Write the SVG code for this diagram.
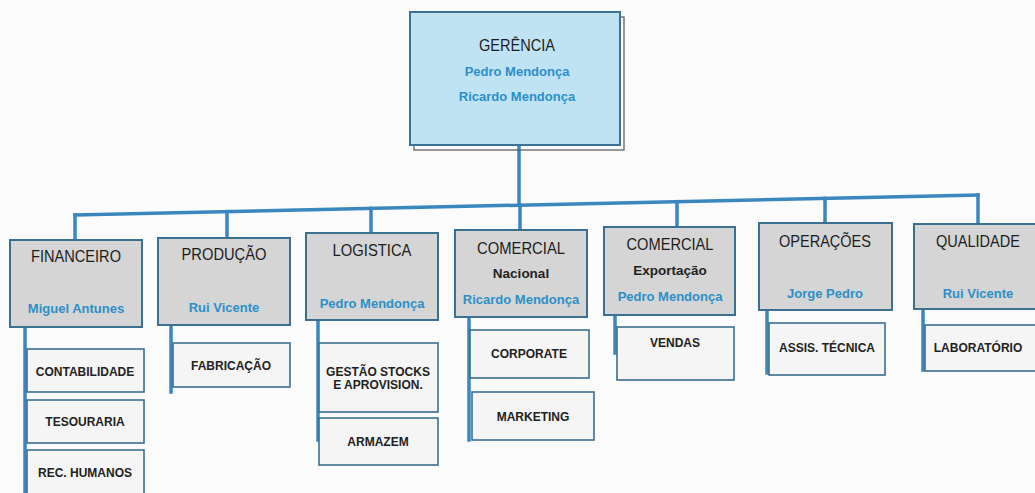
<svg xmlns="http://www.w3.org/2000/svg" width="1035" height="493" viewBox="0 0 1035 493">
<style>
text{font-family:"Liberation Sans",Arial,sans-serif;text-anchor:middle}
.t{font-size:16.5px;fill:#1c1c1c}
.n{font-size:13px;font-weight:bold;fill:#2b8fc8}
.s{font-size:13.5px;font-weight:bold;fill:#222}
.l{font-size:12px;font-weight:bold;fill:#222}
.top{fill:#bfe3f3;stroke:#3c7295;stroke-width:2}
.dep{fill:#d5d5d5;stroke:#3d6f90;stroke-width:2}
.sub{fill:#f5f5f5;stroke:#3d6f90;stroke-width:1.6}
.c{fill:none;stroke:#3a87bd;stroke-width:3.5;stroke-linecap:square}
</style>
<rect width="1035" height="493" fill="#fbfbfb"/>
<g id="connectors">
<line class="c" x1="519" y1="146" x2="519" y2="205"/>
<line class="c" x1="75" y1="215" x2="978" y2="195"/>
<line class="c" x1="75" y1="215" x2="75" y2="240"/>
<line class="c" x1="227" y1="211.6" x2="227" y2="238"/>
<line class="c" x1="371" y1="208.4" x2="371" y2="233"/>
<line class="c" x1="520" y1="205.1" x2="520" y2="230"/>
<line class="c" x1="677" y1="201.7" x2="677" y2="227"/>
<line class="c" x1="825" y1="198.4" x2="825" y2="223"/>
<line class="c" x1="978" y1="195" x2="978" y2="224"/>
<line class="c" x1="25" y1="327" x2="25" y2="495"/>
<line class="c" x1="171" y1="325" x2="171" y2="392"/>
<line class="c" x1="318" y1="320" x2="318" y2="440"/>
<line class="c" x1="469" y1="317" x2="469" y2="440"/>
<line class="c" x1="615" y1="315" x2="615" y2="353"/>
<line class="c" x1="767" y1="310" x2="767" y2="373"/>
<line class="c" x1="923" y1="309" x2="923" y2="370"/>
</g>
<g id="gerencia">
<rect x="414" y="17" width="210" height="133" fill="none" stroke="#555" stroke-width="1.2"/>
<rect class="top" x="410" y="12" width="210" height="133"/>
<text class="t" x="517" y="51" textLength="76" lengthAdjust="spacingAndGlyphs">GERÊNCIA</text>
<text class="n" x="517" y="76">Pedro Mendonça</text>
<text class="n" x="517" y="101">Ricardo Mendonça</text>
</g>
<g id="financeiro">
<rect class="dep" x="10" y="240" width="132" height="87"/>
<text class="t" x="76" y="262" textLength="90" lengthAdjust="spacingAndGlyphs">FINANCEIRO</text>
<text class="n" x="76" y="313">Miguel Antunes</text>
</g>
<g id="producao">
<rect class="dep" x="158" y="238" width="132" height="87"/>
<text class="t" x="224" y="260" textLength="85" lengthAdjust="spacingAndGlyphs">PRODUÇÃO</text>
<text class="n" x="224" y="312">Rui Vicente</text>
</g>
<g id="logistica">
<rect class="dep" x="306" y="233" width="132" height="87"/>
<text class="t" x="372" y="256" textLength="79" lengthAdjust="spacingAndGlyphs">LOGISTICA</text>
<text class="n" x="372" y="308">Pedro Mendonça</text>
</g>
<g id="comercial-nacional">
<rect class="dep" x="455" y="230" width="132" height="87"/>
<text class="t" x="521" y="254" textLength="88" lengthAdjust="spacingAndGlyphs">COMERCIAL</text>
<text class="s" x="521" y="278">Nacional</text>
<text class="n" x="521" y="304">Ricardo Mendonça</text>
</g>
<g id="comercial-exportacao">
<rect class="dep" x="604" y="227" width="131" height="88"/>
<text class="t" x="670" y="250" textLength="87" lengthAdjust="spacingAndGlyphs">COMERCIAL</text>
<text class="s" x="670" y="275">Exportação</text>
<text class="n" x="670" y="301">Pedro Mendonça</text>
</g>
<g id="operacoes">
<rect class="dep" x="759" y="223" width="133" height="87"/>
<text class="t" x="825" y="247" textLength="92" lengthAdjust="spacingAndGlyphs">OPERAÇÕES</text>
<text class="n" x="825" y="298">Jorge Pedro</text>
</g>
<g id="qualidade">
<rect class="dep" x="914" y="224" width="130" height="85"/>
<text class="t" x="978" y="247" textLength="84" lengthAdjust="spacingAndGlyphs">QUALIDADE</text>
<text class="n" x="978" y="298">Rui Vicente</text>
</g>
<g id="contabilidade"><rect class="sub" x="27" y="349" width="117" height="43"/><text class="l" x="85" y="376">CONTABILIDADE</text></g>
<g id="tesouraria"><rect class="sub" x="27" y="400" width="117" height="43"/><text class="l" x="85" y="426">TESOURARIA</text></g>
<g id="rec-humanos"><rect class="sub" x="27" y="450" width="117" height="50"/><text class="l" x="85" y="477">REC. HUMANOS</text></g>
<g id="fabricacao"><rect class="sub" x="173" y="343" width="117" height="44"/><text class="l" x="231" y="370">FABRICAÇÃO</text></g>
<g id="gestao-stocks"><rect class="sub" x="319" y="343" width="119" height="69"/><text class="l" x="378" y="376">GESTÃO STOCKS</text><text class="l" x="378" y="389">E APROVISION.</text></g>
<g id="armazem"><rect class="sub" x="319" y="418" width="119" height="47"/><text class="l" x="378" y="446">ARMAZEM</text></g>
<g id="corporate"><rect class="sub" x="470" y="330" width="119" height="48"/><text class="l" x="529" y="358">CORPORATE</text></g>
<g id="marketing"><rect class="sub" x="472" y="392" width="122" height="48"/><text class="l" x="533" y="421">MARKETING</text></g>
<g id="vendas"><rect class="sub" x="617" y="327" width="117" height="53"/><text class="l" x="675" y="347">VENDAS</text></g>
<g id="assis-tecnica"><rect class="sub" x="769" y="323" width="116" height="52"/><text class="l" x="827" y="352">ASSIS. TÉCNICA</text></g>
<g id="laboratorio"><rect class="sub" x="925" y="325" width="118" height="46"/><text class="l" x="978" y="352">LABORATÓRIO</text></g>
</svg>
